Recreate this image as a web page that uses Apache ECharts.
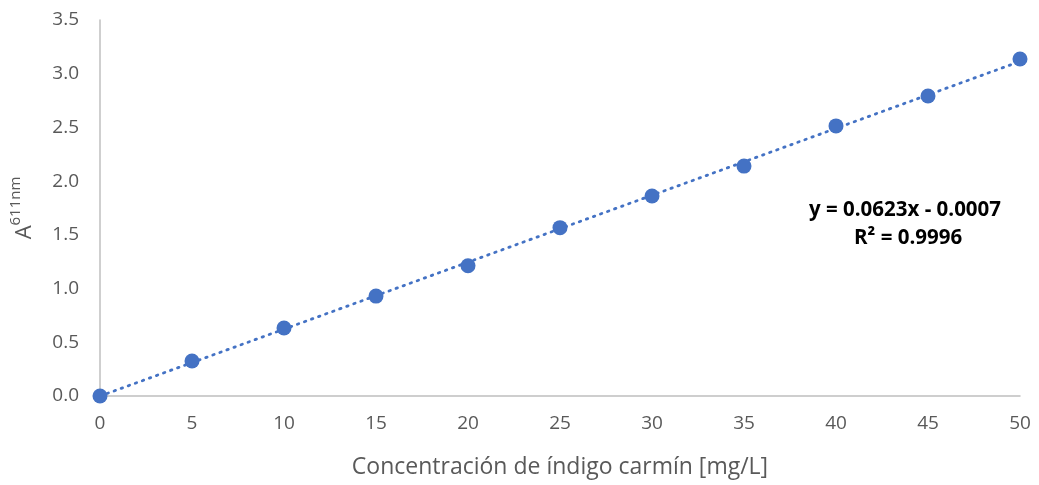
<!DOCTYPE html>
<html><head><meta charset="utf-8">
<script src="https://cdn.jsdelivr.net/npm/echarts@6/dist/echarts.min.js"></script>
<style>html,body{margin:0;padding:0;background:#fff}#c{width:1039px;height:485px}</style>
</head><body><div id="c"></div>
<script>
const concentrations = [0, 5, 10, 15, 20, 25, 30, 35, 40, 45, 50];
const absorbance = [0, 0.326, 0.633, 0.93, 1.213, 1.567, 1.862, 2.14, 2.514, 2.793, 3.137];
const trendX = [0, 50];
const trendY = [-0.0007, 3.1143];
const equationText = 'y = 0.0623x - 0.0007';
const r2Text = 'R² = 0.9996';
const xTitle = 'Concentración de índigo carmín [mg/L]';

const font = '"Open Sans", "Noto Sans", sans-serif';
const chart = echarts.init(document.getElementById('c'), null, {renderer: 'canvas'});
chart.setOption({
  animation: false,
  backgroundColor: '#fff',
  grid: {left: 99, right: 19, top: 20, bottom: 89, containLabel: false},
  xAxis: {
    type: 'value', min: 0, max: 50, interval: 5,
    name: xTitle, nameLocation: 'middle', nameGap: 60,
    nameTextStyle: {color: '#595959', fontSize: 23, fontFamily: font},
    axisLine: {show: true, onZero: false, lineStyle: {color: '#bfbfbf', width: 1.5}},
    axisTick: {show: false},
    splitLine: {show: false},
    axisLabel: {color: '#595959', fontSize: 19, fontFamily: font, margin: 18}
  },
  yAxis: {
    type: 'value', min: 0, max: 3.5, interval: 0.5,
    name: '{a|A}{s|611nm}', nameLocation: 'middle', nameGap: 64, nameRotate: 90,
    nameTextStyle: {
      rich: {
        a: {color: '#595959', fontSize: 22, fontFamily: font, lineHeight: 28, verticalAlign: 'bottom'},
        s: {color: '#595959', fontSize: 15, fontFamily: font, lineHeight: 16, verticalAlign: 'top'}
      }
    },
    axisLine: {show: true, lineStyle: {color: '#bfbfbf', width: 1.5}},
    axisTick: {show: false},
    splitLine: {show: false},
    axisLabel: {color: '#595959', fontSize: 19, fontFamily: font, margin: 21,
      formatter: v => v.toFixed(1)}
  },
  series: [
    {
      type: 'line',
      data: trendX.map((x, i) => [x, trendY[i]]),
      symbol: 'none',
      lineStyle: {color: '#4472C4', width: 2.8, type: [1.5, 6], cap: 'round'},
      z: 2
    },
    {
      type: 'scatter',
      data: concentrations.map((x, i) => [x, absorbance[i]]),
      symbol: 'circle', symbolSize: 15,
      itemStyle: {color: '#4472C4', opacity: 1},
      z: 3
    }
  ],
  graphic: [
    {type: 'text', left: 809, top: 200, style: {text: equationText, fill: '#000', font: 'bold 20.5px ' + font}},
    {type: 'text', left: 854, top: 228, style: {text: r2Text, fill: '#000', font: 'bold 20.5px ' + font}}
  ]
});
</script></body></html>
